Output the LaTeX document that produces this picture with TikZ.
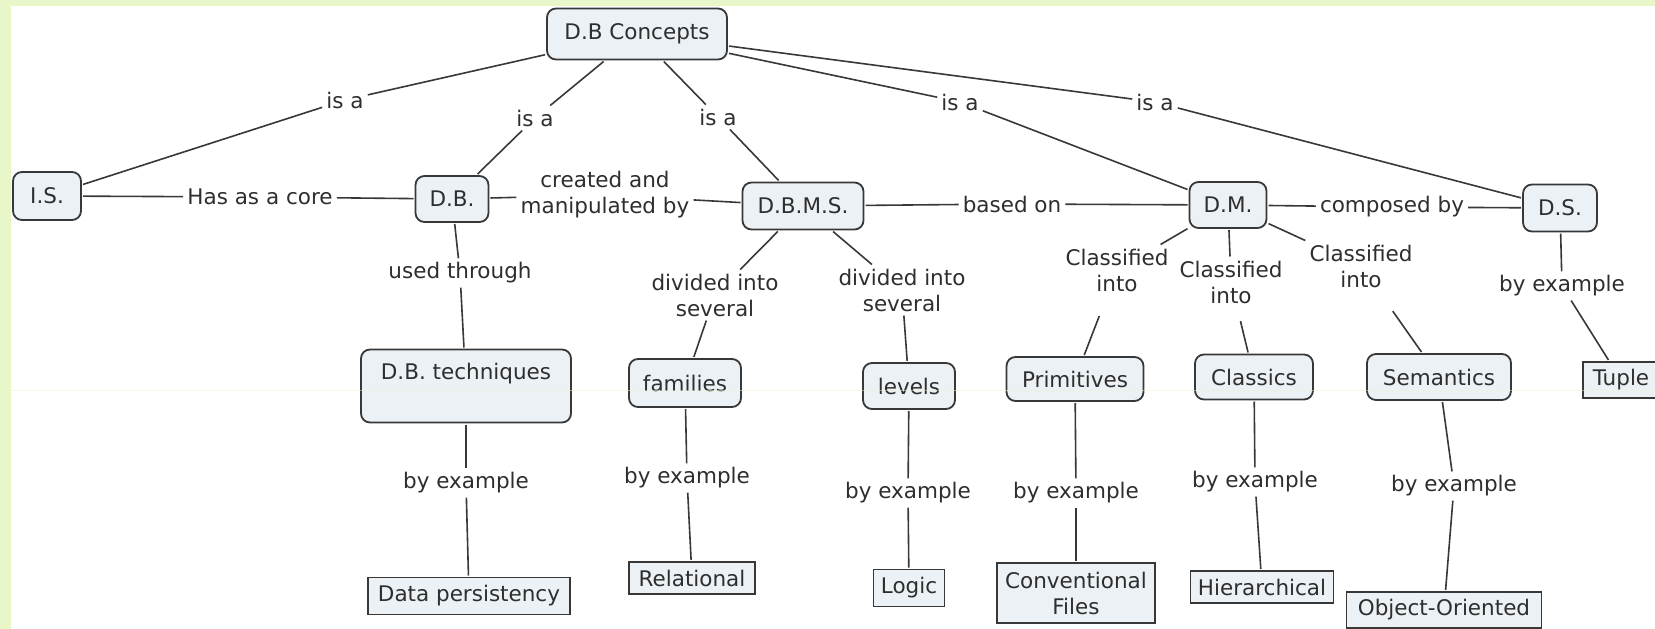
\documentclass[tikz,border=0pt]{standalone}
\usepackage{fontspec}
\setmainfont{DejaVu Sans}
\usepackage{tikz}
\definecolor{bggreen}{HTML}{E8F6C8}
\definecolor{boxfill}{HTML}{EBF1F5}
\definecolor{linegray}{HTML}{383838}
\definecolor{textgray}{HTML}{2E2E2E}
\tikzset{
	x=1pt, y=-1pt, % one unit is one pixel of the map, y runs downwards
	concept/.style={draw=linegray, fill=boxfill, line width=1.8, rounded corners=9, inner sep=4, outer sep=2, minimum height=46, text=textgray}, % rounded boxes for the concepts
	sample/.style={draw=linegray, fill=boxfill, line width=1.8, inner sep=4, outer sep=2, minimum height=36, text=textgray, align=center}, % square boxes for the examples
	phrase/.style={text=textgray, inner sep=4, align=center}, % linking words between boxes
	link/.style={draw=linegray, line width=1.6}, % lines from box to words to box
}

\begin{document}
\begin{tikzpicture}[font=\fontsize{21.5}{26}\selectfont]
		\clip (0,0) rectangle (1655,629);
		\fill[bggreen] (0,0) rectangle (1655,629);
		\fill[white] (10.7,6) rectangle (1655,629);

		% concepts
		\node[concept, minimum width=180, minimum height=51] (dbc) at (637,34) {D.B Concepts};
		\node[concept, minimum width=68, minimum height=48] (is) at (47,196) {I.S.};
		\node[concept, minimum width=73] (db) at (452,199) {D.B.};
		\node[concept, minimum width=121, minimum height=47] (dbms) at (803,206) {D.B.M.S.};
		\node[concept, minimum width=77] (dm) at (1228,205) {D.M.};
		\node[concept, minimum width=74, minimum height=47] (ds) at (1560,208) {D.S.};
		\node[concept, minimum width=210, text height=20, text depth=33, inner ysep=10] (dbt) at (466,386) {D.B. techniques};
		\node[concept, minimum width=112, minimum height=48] (families) at (685,383) {families};
		\node[concept, minimum width=92] (levels) at (909,386) {levels};
		\node[concept, minimum width=137, minimum height=44] (prim) at (1075,379) {Primitives};
		\node[concept, minimum width=118, minimum height=45] (classics) at (1254,377) {Classics};
		\node[concept, minimum width=144] (semantics) at (1439,377) {Semantics};

		% examples
		\node[sample, minimum width=202, minimum height=37] (persist) at (469,596) {Data persistency};
		\node[sample, minimum width=126, minimum height=32] (relational) at (692,578) {Relational};
		\node[sample, minimum width=71, minimum height=37] (logic) at (909,588) {Logic};
		\node[sample, minimum width=158, minimum height=60] (convfiles) at (1076,593) {Conventional\\Files};
		\node[sample, minimum width=143, minimum height=32] (hier) at (1262,587) {Hierarchical};
		\node[sample, minimum width=195] (oo) at (1444,610) {Object-Oriented};
		\node[sample, minimum width=76] (tuple) at (1621,380) {Tuple};

		% linking words
		\node[phrase] (isa1) at (345,100) {is a};
		\node[phrase] (isa2) at (535,118) {is a};
		\node[phrase] (isa3) at (718,117) {is a};
		\node[phrase] (isa4) at (960,102) {is a};
		\node[phrase] (isa5) at (1155,102) {is a};
		\node[phrase] (core) at (260,197) {Has as a core};
		\node[phrase] (created) at (605,195) {created and\\manipulated by};
		\node[phrase] (based) at (1012,204) {based on};
		\node[phrase] (composed) at (1392,207) {composed by};
		\node[phrase] (used) at (460,273) {used through};
		\node[phrase] (div1) at (715,295) {divided into\\several};
		\node[phrase] (div2) at (902,290) {divided into\\several};
		\node[phrase] (cls1) at (1117,270) {Classified\\into};
		\node[phrase] (cls2) at (1231,282) {Classified\\into};
		\node[phrase] (cls3) at (1361,266) {Classified\\into};
		\node[phrase] (ex1) at (466,483) {by example};
		\node[phrase] (ex2) at (687,478) {by example};
		\node[phrase] (ex3) at (908,493) {by example};
		\node[phrase] (ex4) at (1076,493) {by example};
		\node[phrase] (ex5) at (1255,482) {by example};
		\node[phrase] (ex6) at (1454,486) {by example};
		\node[phrase] (ex7) at (1562,286) {by example};

		\draw[link]
		(dbc) edge (isa1) (isa1) edge (is)
		(dbc) edge (isa2) (isa2) edge (db)
		(dbc) edge (isa3) (isa3) edge (dbms)
		(dbc) edge (isa4) (isa4) edge (dm)
		(dbc) edge (isa5) (isa5) edge (ds)

		(is) edge (core) (core) edge (db)
		(db) edge (created) (created) edge (dbms)
		(dbms) edge (based) (based) edge (dm)
		(dm) edge (composed) (composed) edge (ds)

		(db) edge (used) (used) edge (dbt)
		(dbms) edge (div1) (div1) edge (families)
		(dbms) edge (div2) (div2) edge (levels)
		(dm) edge (cls1) (cls1) edge[shorten <=22] (prim)
		(dm) edge (cls2) (cls2) edge[shorten <=14] (classics)
		(dm) edge (cls3) (cls3) edge[shorten <=24] (semantics)

		(dbt) edge (ex1) (ex1) edge (persist)
		(families) edge (ex2) (ex2) edge (relational)
		(levels) edge (ex3) (ex3) edge (logic)
		(prim) edge (ex4) (ex4) edge (convfiles)
		(classics) edge (ex5) (ex5) edge (hier)
		(semantics) edge (ex6) (ex6) edge (oo)
		(ds) edge (ex7) (ex7) edge (tuple);

		\draw[bggreen, opacity=0.5, line width=0.8] (10.7,390) -- (1655,390);
	\end{tikzpicture}
\end{document}
